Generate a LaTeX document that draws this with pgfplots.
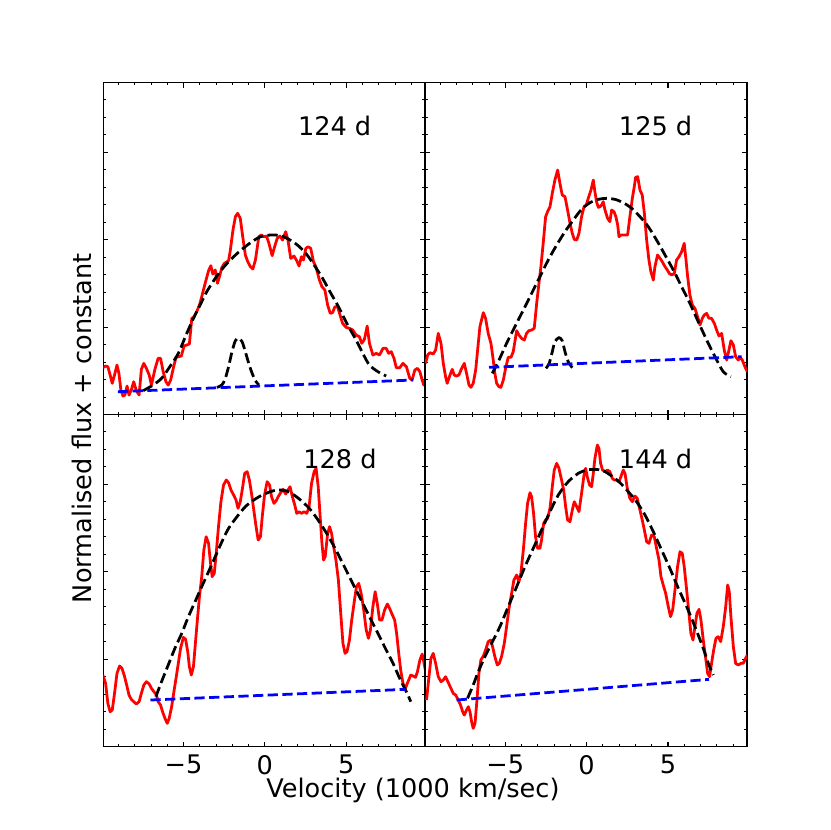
\documentclass[border=0pt]{standalone}
\usepackage{fontspec}
\setmainfont{DejaVu Sans}
\usepackage{pgfplots}
\pgfplotsset{compat=1.18}
\definecolor{mred}{rgb}{1,0,0}
\definecolor{mblue}{rgb}{0,0,1}
\pgfplotsset{
 panel/.style={
  scale only axis, width=232.6pt, height=240pt,
  xmin=-9.93, xmax=9.85, ymin=0, ymax=996,
  xtick={-5,0,5},
  minor xtick={-9,-8,-7,-6,-4,-3,-2,-1,1,2,3,4,6,7,8,9},
  ytick={0,262.5,525,787.5},
  minor ytick={52.5,105,157.5,210,315,367.5,420,472.5,577.5,630,682.5,735,840,892.5,945},
  yticklabels={}, xticklabels={},
  tick align=inside, tick pos=both,
  major tick length=3.5pt, minor tick length=2pt,
  every major tick/.style={black, line width=0.8pt},
  every minor tick/.style={black, line width=0.6pt},
  axis line style={line width=1pt},
  xticklabel style={font=\fontsize{18.5}{22}\selectfont, inner sep=0pt, yshift=-6pt},
 },
 spec/.style={mred, line width=2pt, line join=round},
 fit/.style={black, line width=2pt, dash pattern=on 7.4pt off 3.2pt, smooth},
 cont/.style={mblue, line width=2pt, dash pattern=on 7.4pt off 3.2pt},
}
\tikzset{lab/.style={font=\fontsize{18.5}{22}\selectfont, anchor=center, inner sep=0pt}}
\begin{document}
\begin{tikzpicture}
\useasboundingbox (0,0) rectangle (600pt,600pt);
% ---------------- 124 d ----------------
\begin{axis}[panel, at={(74.68pt,300.22pt)}, anchor=south west]
\addplot[spec] coordinates {(-9.96,141) (-9.79,146) (-9.65,144) (-9.51,119) (-9.38,94) (-9.24,119) (-9.09,149) (-8.97,124) (-8.85,74) (-8.72,56) (-8.60,59) (-8.47,86) (-8.35,59) (-8.21,74) (-8.06,99) (-7.90,72) (-7.73,59) (-7.59,136) (-7.44,154) (-7.28,139) (-7.11,119) (-6.97,89) (-6.76,136) (-6.56,169) (-6.41,169) (-6.25,129) (-6.08,99) (-5.94,89) (-5.79,104) (-5.63,139) (-5.46,172) (-5.30,174) (-5.13,176) (-4.97,206) (-4.80,209) (-4.64,212) (-4.49,289) (-4.35,294) (-4.19,309) (-4.02,329) (-3.88,354) (-3.67,394) (-3.46,432) (-3.32,447) (-3.20,422) (-3.05,434) (-2.91,394) (-2.78,416) (-2.64,442) (-2.49,454) (-2.23,462) (-2.12,494) (-1.96,554) (-1.81,594) (-1.67,604) (-1.51,589) (-1.36,534) (-1.20,479) (-1.05,459) (-0.89,444) (-0.74,437) (-0.58,464) (-0.37,534) (-0.23,539) (-0.06,534) (0.10,536) (0.25,514) (0.45,477) (0.60,504) (0.76,529) (0.93,536) (1.09,524) (1.28,549) (1.42,524) (1.59,469) (1.79,476) (1.96,462) (2.10,446) (2.25,474) (2.37,464) (2.52,499) (2.66,504) (2.82,499) (2.99,459) (3.15,442) (3.34,406) (3.51,384) (3.69,374) (3.86,329) (4.02,304) (4.16,306) (4.31,324) (4.47,324) (4.64,296) (4.78,274) (4.99,262) (5.20,259) (5.40,254) (5.61,239) (5.81,234) (5.96,214) (6.12,226) (6.29,266) (6.43,214) (6.64,179) (6.85,184) (7.05,179) (7.26,199) (7.46,199) (7.61,184) (7.77,189) (7.94,169) (8.08,141) (8.29,141) (8.49,154) (8.70,144) (8.91,109) (9.05,104) (9.22,134) (9.38,139) (9.53,129) (9.67,104) (9.77,89) (9.90,89)};
\addplot[fit] coordinates {(-7.48,72) (-6.87,89) (-6.35,109) (-5.84,144) (-5.32,184) (-4.80,244) (-4.39,289) (-3.98,329) (-3.57,369) (-3.05,409) (-2.54,442) (-2.02,469) (-1.51,492) (-0.99,512) (-0.47,529) (-0.06,537) (0.45,539) (0.97,537) (1.48,526) (2.00,509) (2.52,484) (3.03,449) (3.55,409) (4.06,364) (4.58,319) (5.09,269) (5.61,224) (6.02,184) (6.43,149) (6.95,129) (7.46,116)};
\addplot[fit] coordinates {(-2.95,82) (-2.64,89) (-2.43,109) (-2.23,144) (-2.02,189) (-1.81,222) (-1.61,229) (-1.40,219) (-1.20,189) (-0.99,154) (-0.78,124) (-0.58,102) (-0.37,89)};
\addplot[cont] coordinates {(-9.03,69) (9.11,104)};
\node[lab] at (axis cs:4.29,866) {124 d};
\end{axis}
% ---------------- 125 d ----------------
\begin{axis}[panel, at={(307.28pt,300.22pt)}, anchor=south west]
\addplot[spec] coordinates {(-9.90,154) (-9.77,179) (-9.63,186) (-9.43,182) (-9.28,194) (-9.12,244) (-8.95,214) (-8.81,154) (-8.67,114) (-8.57,94) (-8.40,119) (-8.26,136) (-8.14,119) (-8.00,116) (-7.85,119) (-7.68,139) (-7.52,154) (-7.38,124) (-7.23,89) (-7.11,82) (-6.97,94) (-6.82,134) (-6.70,194) (-6.56,264) (-6.35,306) (-6.21,289) (-6.05,244) (-5.88,214) (-5.74,164) (-5.64,124) (-5.53,94) (-5.39,84) (-5.27,82) (-5.12,104) (-4.98,139) (-4.82,172) (-4.65,172) (-4.51,189) (-4.36,234) (-4.30,252) (-4.16,239) (-4.00,229) (-3.83,224) (-3.69,244) (-3.55,252) (-3.38,254) (-3.22,259) (-3.07,334) (-2.93,394) (-2.81,444) (-2.66,519) (-2.52,594) (-2.40,609) (-2.25,624) (-2.11,664) (-1.95,704) (-1.78,734) (-1.64,694) (-1.50,659) (-1.33,654) (-1.17,614) (-1.02,574) (-0.88,544) (-0.76,526) (-0.61,524) (-0.47,544) (-0.31,594) (-0.16,624) (-0.02,629) (0.10,649) (0.27,674) (0.41,704) (0.51,669) (0.61,639) (0.72,622) (0.82,624) (0.92,629) (1.02,639) (1.13,614) (1.29,589) (1.43,579) (1.54,614) (1.68,609) (1.80,594) (1.91,569) (1.99,534) (2.11,539) (2.32,539) (2.52,539) (2.66,594) (2.81,649) (2.93,684) (3.01,712) (3.14,714) (3.28,674) (3.42,659) (3.55,604) (3.69,524) (3.83,464) (3.95,429) (4.10,404) (4.20,444) (4.36,479) (4.51,469) (4.65,459) (4.82,444) (4.96,434) (5.08,424) (5.23,419) (5.39,424) (5.53,464) (5.68,474) (5.84,489) (6.00,514) (6.11,464) (6.21,414) (6.35,359) (6.50,329) (6.66,319) (6.82,294) (6.97,269) (7.11,289) (7.23,299) (7.38,304) (7.52,289) (7.68,289) (7.85,274) (7.99,254) (8.14,236) (8.30,244) (8.46,194) (8.61,164) (8.75,194) (8.87,222) (9.02,209) (9.16,174) (9.32,164) (9.43,172) (9.57,164) (9.73,144) (9.88,129)};
\addplot[fit] coordinates {(-5.80,124) (-5.43,159) (-4.92,214) (-4.41,264) (-3.89,314) (-3.38,364) (-2.87,414) (-2.36,464) (-1.84,509) (-1.33,549) (-0.82,584) (-0.31,616) (0.20,636) (0.72,646) (1.23,649) (1.74,646) (2.25,636) (2.77,619) (3.28,594) (3.79,564) (4.30,524) (4.82,479) (5.33,434) (5.84,384) (6.35,334) (6.86,279) (7.38,224) (7.89,174) (8.40,129) (8.87,114)};
\addplot[fit] coordinates {(-2.50,139) (-2.30,154) (-2.11,189) (-1.95,219) (-1.70,231) (-1.50,222) (-1.33,189) (-1.13,159) (-0.88,141)};
\addplot[cont] coordinates {(-6.00,142) (9.53,174)};
\node[lab] at (axis cs:4.24,866) {125 d};
\end{axis}
% ---------------- 128 d ----------------
\begin{axis}[panel, at={(74.68pt,60.22pt)}, anchor=south west, xticklabels={−5,0,5}]
\addplot[spec] coordinates {(-9.96,215) (-9.79,190) (-9.65,130) (-9.51,105) (-9.38,110) (-9.24,160) (-9.09,220) (-8.93,242) (-8.78,235) (-8.62,210) (-8.47,180) (-8.35,155) (-8.21,142) (-8.06,135) (-7.90,128) (-7.73,135) (-7.59,160) (-7.44,185) (-7.28,195) (-7.11,188) (-6.97,175) (-6.82,165) (-6.66,155) (-6.56,135) (-6.41,125) (-6.29,105) (-6.14,85) (-6.00,70) (-5.88,85) (-5.73,120) (-5.59,165) (-5.46,205) (-5.32,250) (-5.18,295) (-5.01,328) (-4.87,322) (-4.74,285) (-4.64,240) (-4.52,215) (-4.39,240) (-4.27,310) (-4.14,385) (-4.02,450) (-3.88,510) (-3.75,590) (-3.61,630) (-3.46,610) (-3.36,560) (-3.24,510) (-3.11,520) (-2.99,580) (-2.85,660) (-2.70,735) (-2.54,785) (-2.37,800) (-2.23,792) (-2.08,770) (-1.92,755) (-1.77,740) (-1.65,715) (-1.51,735) (-1.36,780) (-1.24,820) (-1.09,825) (-0.95,800) (-0.82,760) (-0.68,710) (-0.54,660) (-0.41,620) (-0.27,630) (-0.16,690) (-0.02,755) (0.14,795) (0.29,785) (0.41,750) (0.56,730) (0.70,738) (0.82,750) (0.97,762) (1.13,772) (1.28,758) (1.42,770) (1.55,780) (1.69,750) (1.84,725) (1.96,700) (2.10,705) (2.25,700) (2.41,705) (2.58,700) (2.72,720) (2.87,790) (3.03,825) (3.15,835) (3.28,780) (3.40,690) (3.51,610) (3.61,560) (3.71,570) (3.86,640) (3.98,660) (4.10,640) (4.23,600) (4.37,560) (4.52,500) (4.68,390) (4.80,310) (4.93,280) (5.05,285) (5.20,320) (5.34,380) (5.51,440) (5.63,480) (5.77,490) (5.92,460) (6.08,410) (6.23,350) (6.37,325) (6.49,350) (6.64,420) (6.78,465) (6.91,430) (7.05,380) (7.20,380) (7.36,410) (7.53,428) (7.67,415) (7.84,395) (7.98,380) (8.10,340) (8.23,280) (8.35,230) (8.49,190) (8.64,175) (8.80,195) (8.97,215) (9.11,212) (9.26,208) (9.38,225) (9.53,260) (9.67,278) (9.79,250) (9.94,210)};
\addplot[fit] coordinates {(-6.70,150) (-6.35,195) (-5.94,245) (-5.53,295) (-5.11,340) (-4.70,390) (-4.29,435) (-3.88,480) (-3.46,525) (-3.05,570) (-2.64,615) (-2.23,655) (-1.71,690) (-1.20,720) (-0.68,740) (-0.16,755) (0.35,765) (0.76,770) (1.28,768) (1.79,755) (2.31,735) (2.82,710) (3.34,675) (3.86,635) (4.37,590) (4.89,540) (5.40,490) (5.92,440) (6.43,390) (6.95,340) (7.46,290) (7.88,250) (8.29,205) (8.70,165) (8.97,135)};
\addplot[cont] coordinates {(-7.03,140) (8.64,172)};
\node[lab] at (axis cs:4.62,864) {128 d};
\end{axis}
% ---------------- 144 d ----------------
\begin{axis}[panel, at={(307.28pt,60.22pt)}, anchor=south west, xticklabels={−5,0,5}]
\addplot[spec] coordinates {(-9.84,140) (-9.69,210) (-9.57,265) (-9.43,280) (-9.28,250) (-9.12,210) (-8.95,195) (-8.81,200) (-8.67,210) (-8.50,192) (-8.34,175) (-8.20,160) (-8.05,155) (-7.89,140) (-7.75,125) (-7.62,105) (-7.52,95) (-7.38,110) (-7.27,120) (-7.17,105) (-7.07,75) (-6.97,55) (-6.86,70) (-6.74,140) (-6.62,220) (-6.50,260) (-6.35,272) (-6.21,290) (-6.05,315) (-5.90,320) (-5.78,300) (-5.64,270) (-5.49,245) (-5.37,250) (-5.23,270) (-5.06,310) (-4.92,360) (-4.77,415) (-4.61,460) (-4.47,500) (-4.30,515) (-4.16,495) (-4.04,520) (-3.89,590) (-3.75,670) (-3.63,730) (-3.48,762) (-3.38,750) (-3.26,700) (-3.14,630) (-3.01,595) (-2.87,595) (-2.77,620) (-2.64,670) (-2.52,680) (-2.40,685) (-2.25,715) (-2.11,780) (-1.99,830) (-1.84,850) (-1.70,835) (-1.54,800) (-1.41,770) (-1.29,720) (-1.17,680) (-1.02,675) (-0.88,710) (-0.76,735) (-0.61,720) (-0.47,705) (-0.31,760) (-0.16,815) (-0.06,835) (0.04,810) (0.18,785) (0.31,780) (0.41,820) (0.51,865) (0.66,905) (0.76,895) (0.86,850) (0.98,830) (1.13,825) (1.29,830) (1.43,825) (1.58,805) (1.70,800) (1.84,800) (1.99,795) (2.11,810) (2.25,830) (2.36,820) (2.50,775) (2.66,745) (2.81,735) (2.97,752) (3.11,745) (3.28,710) (3.42,680) (3.55,650) (3.69,615) (3.83,610) (4.00,635) (4.16,630) (4.30,595) (4.45,560) (4.57,510) (4.71,485) (4.86,460) (5.02,420) (5.16,390) (5.29,410) (5.43,470) (5.59,540) (5.74,585) (5.88,580) (6.00,540) (6.15,470) (6.29,400) (6.41,340) (6.54,320) (6.66,360) (6.78,400) (6.91,412) (7.03,380) (7.17,320) (7.32,265) (7.44,220) (7.56,210) (7.68,250) (7.81,290) (7.95,325) (8.09,330) (8.24,315) (8.40,360) (8.55,420) (8.67,485) (8.77,465) (8.87,390) (9.02,300) (9.16,250) (9.32,245) (9.49,250) (9.63,250) (9.77,265) (9.88,275)};
\addplot[fit] coordinates {(-7.32,145) (-6.97,185) (-6.66,225) (-6.25,270) (-5.84,310) (-5.33,360) (-4.82,420) (-4.30,480) (-3.79,540) (-3.28,595) (-2.77,650) (-2.25,705) (-1.74,755) (-1.13,795) (-0.51,820) (0.00,830) (0.51,832) (1.02,828) (1.54,812) (2.05,792) (2.56,765) (3.07,735) (3.59,695) (4.10,645) (4.61,590) (5.12,535) (5.64,475) (6.15,420) (6.66,360) (7.17,295) (7.48,250) (7.79,215)};
\addplot[cont] coordinates {(-7.99,140) (7.52,202)};
\node[lab] at (axis cs:4.24,863) {144 d};
\end{axis}
\node[font=\fontsize{18.5}{22}\selectfont, anchor=base, inner sep=0pt] at (298.5pt,23.2pt) {Velocity (1000 km/sec)};
\node[font=\fontsize{18.5}{22}\selectfont, anchor=base, inner sep=0pt, rotate=90] at (65.8pt,290.4pt) {Normalised flux + constant};
\end{tikzpicture}
\end{document}
